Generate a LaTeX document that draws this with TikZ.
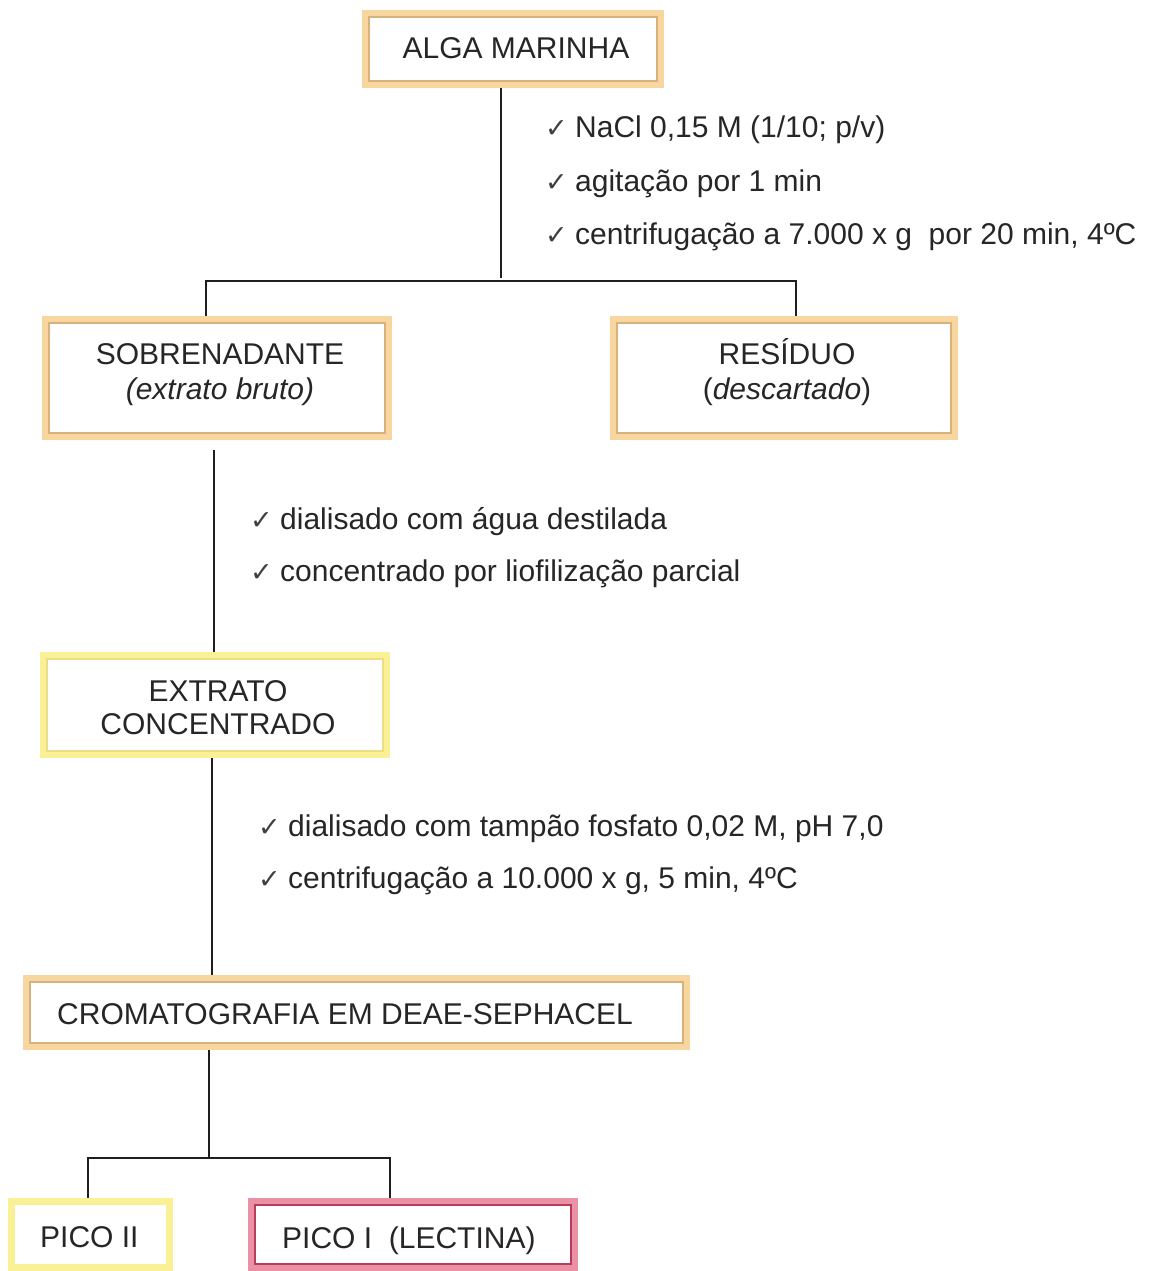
\documentclass[tikz,border=0pt]{standalone}
\usepackage{fontspec}
\setmainfont{Liberation Sans}
\newfontfamily\dejavu{DejaVu Sans}
\usetikzlibrary{calc}
\definecolor{bandor}{RGB}{248,214,160}
\definecolor{innor}{RGB}{215,178,125}
\definecolor{bandye}{RGB}{250,240,150}
\definecolor{innye}{RGB}{235,222,135}
\definecolor{bandpk}{RGB}{235,145,165}
\definecolor{innpk}{RGB}{185,60,90}
\definecolor{lnc}{RGB}{30,30,30}
\newcommand{\ck}{\makebox[30pt][l]{\dejavu\fontsize{27}{27}\selectfont\color{black!75}✓}}
\newcommand{\innerbox}[2]{\draw[#2, line width=1.3pt] ($(#1.south west)+(7,-7)$) rectangle ($(#1.north east)+(-7,7)$);}
\begin{document}
\begin{tikzpicture}[x=1pt,y=-1pt,
  every node/.style={font=\fontsize{30}{35}\selectfont, text=black!85},
  boxor/.style={draw=bandor, line width=7pt, fill=white, inner sep=0pt},
  boxye/.style={draw=bandye, line width=7pt, fill=white, inner sep=0pt},
  boxpk/.style={draw=bandpk, line width=7pt, fill=white, inner sep=0pt},
  lbl/.style={anchor=base, inner sep=0pt},
  lblw/.style={anchor=base west, inner sep=0pt},
  conn/.style={draw=lnc, line width=1.5pt},
  note/.style={anchor=base west, inner sep=0pt}]
\useasboundingbox (0,0) rectangle (1156,1271);
\fill[white] (0,0) rectangle (1156,1271);

\node[boxor, minimum width=295pt, minimum height=71pt] (alga) at (513,49) {};
\innerbox{alga}{innor}
\node[boxor, minimum width=343pt, minimum height=117pt] (sobre) at (217,378) {};
\innerbox{sobre}{innor}
\node[boxor, minimum width=341pt, minimum height=117pt] (resid) at (784,378) {};
\innerbox{resid}{innor}
\node[boxye, minimum width=343pt, minimum height=99pt] (extr) at (215,705) {};
\innerbox{extr}{innye}
\node[boxor, minimum width=660pt, minimum height=68pt] (crom) at (356.5,1012.5) {};
\innerbox{crom}{innor}
\node[boxye, minimum width=158pt, minimum height=66pt] (pico2) at (90.5,1234.5) {};
\node[boxpk, minimum width=323pt, minimum height=66pt] (pico1) at (413,1234.5) {};
\innerbox{pico1}{innpk}

\node[lbl] (t1) at (516,59) {ALGA MARINHA};
\node[lbl] (t2a) at (220,364) {SOBRENADANTE};
\node[lbl] (t2b) at (220,399) {\textit{(extrato bruto)}};
\node[lbl] (t3a) at (787,364) {RESÍDUO};
\node[lbl] (t3b) at (787,399) {(\textit{descartado})};
\node[lbl] (t4a) at (218,701) {EXTRATO};
\node[lbl] (t4b) at (218,734) {CONCENTRADO};
\node[lblw] (t5) at (57,1024) {CROMATOGRAFIA EM DEAE-SEPHACEL};
\node[lblw] (t6) at (40,1247) {PICO II};
\node[lblw] (t7) at (282,1248) {PICO I\ \ (LECTINA)};

\node[note] (n1) at (545,138) {\ck NaCl 0,15 M (1/10; p/v)};
\node[note] (n2) at (545,191) {\ck agitação por 1 min};
\node[note] (n3) at (545,244) {\ck centrifugação a 7.000 x g\ \ por 20 min, 4ºC};
\node[note] (n4) at (250,529) {\ck dialisado com água destilada};
\node[note] (n5) at (250,581) {\ck concentrado por liofilização parcial};
\node[note] (n6) at (258,836) {\ck dialisado com tampão fosfato 0,02 M, pH 7,0};
\node[note] (n7) at (258,888) {\ck centrifugação a 10.000 x g, 5 min, 4ºC};

\coordinate (j1) at (501,278);
\coordinate (l1) at (206,281);
\coordinate (r1) at (796,281);
\coordinate (s1) at (214,450);
\coordinate (e1) at (212,758);
\coordinate (c1) at (209,1158);
\coordinate (l2) at (88,1158);
\coordinate (r2) at (390,1158);

\draw[conn] (j1 |- alga.south) -- (j1);
\draw[conn] (l1 |- sobre.north) -- (l1) -- (r1) -- (r1 |- resid.north);
\draw[conn] (s1) -- (s1 |- extr.north);
\draw[conn] (e1) -- (e1 |- crom.north);
\draw[conn] (c1 |- crom.south) -- (c1);
\draw[conn] (l2 |- pico2.north) -- (l2) -- (r2) -- (r2 |- pico1.north);
\end{tikzpicture}
\end{document}
